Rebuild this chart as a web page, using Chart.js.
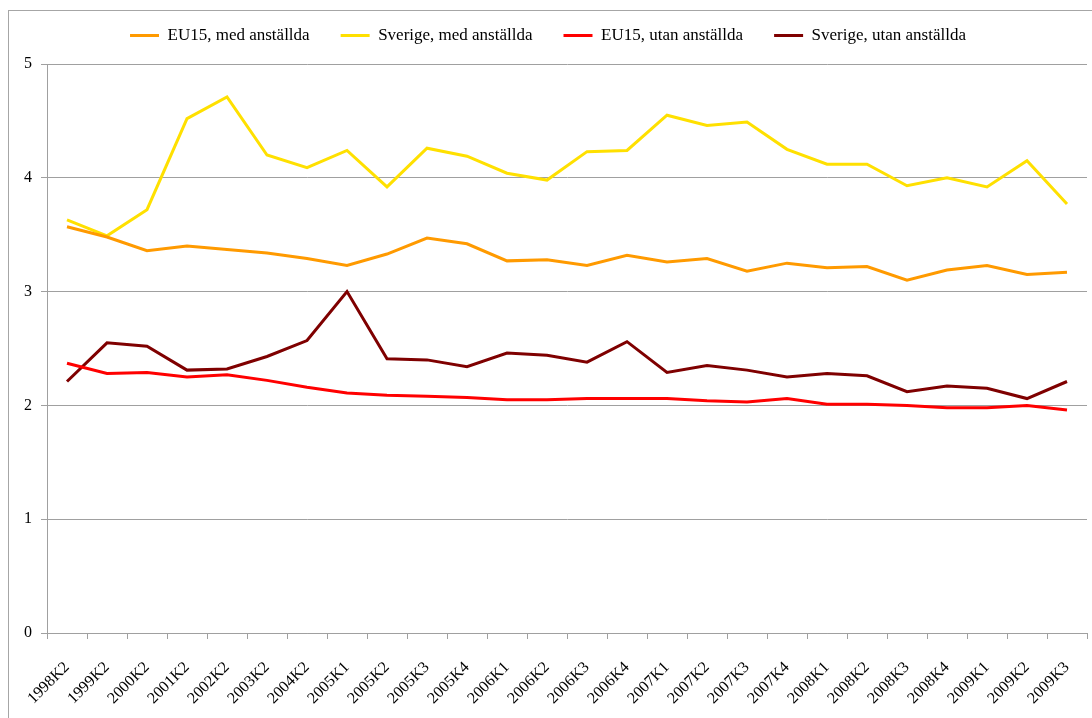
<!DOCTYPE html>
<html>
<head>
<meta charset="utf-8">
<script src="https://cdn.jsdelivr.net/npm/chart.js@4"></script>
<style>
  html, body { margin: 0; padding: 0; background: #fff; width: 1092px; height: 718px; overflow: hidden; }
  #frame { position: absolute; left: 8px; top: 10px; width: 1200px; height: 800px; border: 1px solid #a6a6a6; box-sizing: border-box; }
  #wrap { position: absolute; left: 9px; top: -4px; width: 1083px; height: 722px; }
</style>
</head>
<body>
<div id="frame"></div>
<div id="wrap"><canvas id="c"></canvas></div>
<script>
const categories = ["1998K2","1999K2","2000K2","2001K2","2002K2","2003K2","2004K2","2005K1","2005K2","2005K3","2005K4","2006K1","2006K2","2006K3","2006K4","2007K1","2007K2","2007K3","2007K4","2008K1","2008K2","2008K3","2008K4","2009K1","2009K2","2009K3"];
const eu15Med = [3.57,3.48,3.36,3.40,3.37,3.34,3.29,3.23,3.33,3.47,3.42,3.27,3.28,3.23,3.32,3.26,3.29,3.18,3.25,3.21,3.22,3.10,3.19,3.23,3.15,3.17];
const sverigeMed = [3.63,3.49,3.72,4.52,4.71,4.20,4.09,4.24,3.92,4.26,4.19,4.04,3.98,4.23,4.24,4.55,4.46,4.49,4.25,4.12,4.12,3.93,4.00,3.92,4.15,3.77];
const eu15Utan = [2.37,2.28,2.29,2.25,2.27,2.22,2.16,2.11,2.09,2.08,2.07,2.05,2.05,2.06,2.06,2.06,2.04,2.03,2.06,2.01,2.01,2.00,1.98,1.98,2.00,1.96];
const sverigeUtan = [2.21,2.55,2.52,2.31,2.32,2.43,2.57,3.00,2.41,2.40,2.34,2.46,2.44,2.38,2.56,2.29,2.35,2.31,2.25,2.28,2.26,2.12,2.17,2.15,2.06,2.21];
const seriesNames = ["EU15, med anställda","Sverige, med anställda","EU15, utan anställda","Sverige, utan anställda"];
const seriesColors = ["#FF9A00","#FFE000","#FF0000","#7F0000"];
const yTicks = [0,1,2,3,4,5];

const serif = "'Liberation Serif', 'Times New Roman', serif";
const gridColor = "#a0a0a0";

const ds = [eu15Med, sverigeMed, eu15Utan, sverigeUtan].map((d, i) => ({
  label: seriesNames[i],
  data: d,
  borderColor: seriesColors[i],
  backgroundColor: seriesColors[i],
  borderWidth: 3,
  pointRadius: 0,
  tension: 0,
  fill: false
}));

const legendGap = {
  id: 'legendGap',
  beforeLayout(chart) {
    const lg = chart.legend;
    if (lg && !lg._gapPatched) {
      const f = lg.fit;
      lg.fit = function() { f.call(this); this.height += 10; };
      lg._gapPatched = true;
    }
  }
};

new Chart(document.getElementById('c'), {
  type: 'line',
  data: { labels: categories, datasets: ds },
  options: {
    responsive: true,
    maintainAspectRatio: false,
    animation: false,
    layout: { padding: { top: 0, right: 5, left: 0, bottom: 0 } },
    plugins: {
      tooltip: { enabled: false },
      legend: {
        position: 'top',
        align: 'center',
        labels: {
          font: { family: serif, size: 17 },
          color: '#000',
          boxWidth: 29,
          boxHeight: 3,
          padding: 31,
          generateLabels(chart) {
            return chart.data.datasets.map((d, i) => ({
              text: d.label,
              fillStyle: d.borderColor,
              strokeStyle: d.borderColor,
              lineWidth: 0,
              hidden: false,
              datasetIndex: i,
              fontColor: '#000'
            }));
          }
        }
      }
    },
    scales: {
      x: {
        type: 'category',
        offset: true,
        grid: { offset: true, drawOnChartArea: false, drawTicks: true, tickLength: 6, color: gridColor },
        border: { color: gridColor, width: 1 },
        ticks: {
          autoSkip: false,
          maxRotation: 45,
          minRotation: 45,
          color: '#000',
          padding: 19,
          font: { family: serif, size: 16 }
        },
        afterFit(scale) { scale.height = 85; scale.paddingLeft = 0; scale.paddingRight = 0; }
      },
      y: {
        min: 0,
        max: 5,
        afterBuildTicks(scale) { scale.ticks = yTicks.map(v => ({ value: v })); },
        grid: { color: gridColor, tickLength: 6, drawTicks: true },
        border: { color: gridColor, width: 1 },
        ticks: {
          color: '#000',
          padding: 9,
          font: { family: serif, size: 16 }
        },
        afterFit(scale) { scale.width = 38; }
      }
    }
  },
  plugins: [legendGap]
});
</script>
</body>
</html>
